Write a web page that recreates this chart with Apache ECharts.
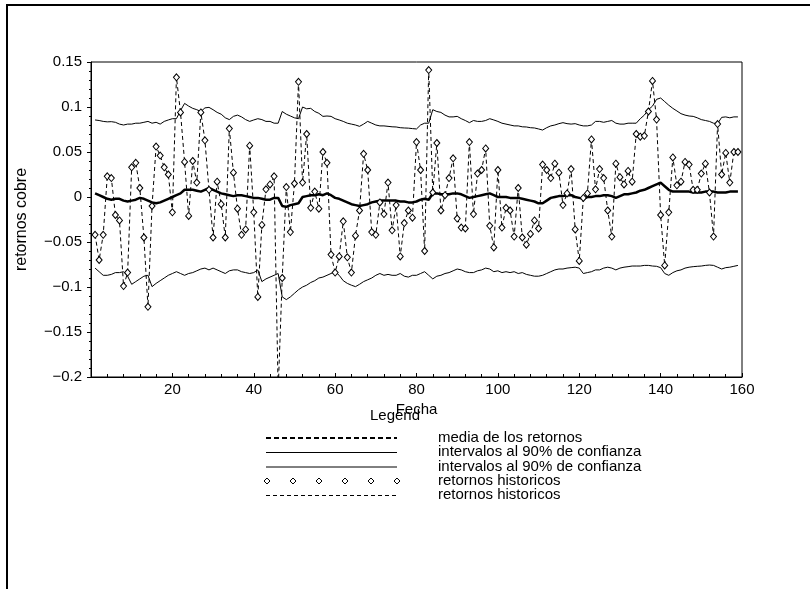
<!DOCTYPE html>
<html>
<head>
<meta charset="utf-8">
<script src="https://cdn.jsdelivr.net/npm/echarts@6/dist/echarts.min.js"></script>
<style>
  html, body { margin: 0; padding: 0; background: #fff; }
  #main { width: 810px; height: 589px; }
</style>
</head>
<body>
<div id="main"></div>
<script>
// retornos historicos, dias 1..159
var retornos = [
  -0.042, -0.070, -0.042, 0.023, 0.021, -0.020, -0.026, -0.099, -0.084, 0.033,
  0.038, 0.010, -0.045, -0.122, -0.010, 0.056, 0.046, 0.033, 0.025, -0.017,
  0.133, 0.094, 0.039, -0.021, 0.040, 0.016, 0.094, 0.063, 0.008, -0.045,
  0.017, -0.008, -0.045, 0.076, 0.027, -0.013, -0.042, -0.036, 0.057, -0.017,
  -0.111, -0.031, 0.0085, 0.014, 0.023, -0.215, -0.090, 0.011, -0.039, 0.015,
  0.128, 0.016, 0.070, -0.012, 0.006, -0.013, 0.050, 0.038, -0.064, -0.084,
  -0.066, -0.027, -0.067, -0.084, -0.043, -0.015, 0.048, 0.030, -0.039, -0.042,
  -0.006, -0.019, 0.016, -0.037, -0.009, -0.066, -0.029, -0.015, -0.023, 0.061,
  0.030, -0.060, 0.141, 0.005, 0.060, -0.015, 0.002, 0.021, 0.043, -0.024,
  -0.034, -0.035, 0.061, -0.019, 0.026, 0.030, 0.054, -0.032, -0.056, 0.030,
  -0.034, -0.012, -0.015, -0.044, 0.010, -0.045, -0.053, -0.041, -0.026, -0.035,
  0.036, 0.030, 0.021, 0.037, 0.027, -0.009, 0.004, 0.031, -0.036, -0.071,
  -0.001, 0.004, 0.064, 0.0085, 0.031, 0.021, -0.015, -0.044, 0.037, 0.022,
  0.014, 0.029, 0.017, 0.070, 0.067, 0.068, 0.095, 0.129, 0.086, -0.020,
  -0.076, -0.017, 0.044, 0.013, 0.017, 0.039, 0.036, 0.008, 0.008, 0.026,
  0.037, 0.005, -0.044, 0.081, 0.025, 0.049, 0.016, 0.050, 0.050
];
var media = [
  0.004, 0.002, 0.000, -0.002, -0.003, -0.002, -0.002, -0.004, -0.005, -0.004,
  -0.003, -0.001, -0.002, -0.004, -0.006, -0.007, -0.006, -0.004, -0.002, 0.000,
  0.002, 0.004, 0.008, 0.008, 0.008, 0.007, 0.006, 0.008, 0.010, 0.008,
  0.006, 0.004, 0.003, 0.002, 0.001, 0.002, 0.002, 0.001, 0.000, -0.001,
  -0.001, -0.002, -0.003, -0.003, -0.001, -0.001, -0.010, -0.011, -0.009, -0.008,
  -0.007, 0.000, 0.001, 0.002, 0.002, 0.003, 0.002, 0.004, 0.002, -0.001,
  -0.002, -0.004, -0.006, -0.008, -0.009, -0.010, -0.009, -0.008, -0.006, -0.005,
  -0.004, -0.004, -0.004, -0.004, -0.004, -0.005, -0.005, -0.006, -0.006, -0.005,
  -0.003, -0.002, -0.003, 0.004, 0.004, 0.003, 0.003, 0.003, 0.004, 0.004,
  0.003, 0.001, -0.001, 0.000, 0.001, 0.002, 0.003, 0.004, 0.002, 0.000,
  0.000, 0.000, -0.001, -0.001, -0.001, -0.002, -0.003, -0.004, -0.005, -0.007,
  -0.007, -0.004, -0.001, 0.000, 0.001, 0.001, 0.002, 0.002, 0.000, -0.001,
  -0.002, 0.000, 0.000, 0.001, 0.001, 0.002, 0.002, 0.001, -0.001, 0.001,
  0.003, 0.003, 0.004, 0.005, 0.007, 0.008, 0.010, 0.012, 0.014, 0.016,
  0.012, 0.008, 0.006, 0.006, 0.006, 0.006, 0.006, 0.005, 0.005, 0.005,
  0.006, 0.006, 0.006, 0.005, 0.005, 0.005, 0.006, 0.006, 0.006
];
var intervaloSup = [
  0.0856, 0.085, 0.084, 0.0835, 0.0837, 0.083, 0.081, 0.080, 0.081, 0.081,
  0.082, 0.082, 0.083, 0.084, 0.082, 0.083, 0.081, 0.084, 0.0856, 0.087,
  0.087, 0.096, 0.104, 0.101, 0.0985, 0.097, 0.095, 0.099, 0.0996, 0.097,
  0.094, 0.092, 0.088, 0.086, 0.0896, 0.091, 0.089, 0.086, 0.084, 0.0856,
  0.087, 0.086, 0.084, 0.084, 0.082, 0.082, 0.095, 0.092, 0.090, 0.088,
  0.087, 0.100, 0.098, 0.0985, 0.095, 0.093, 0.0896, 0.090, 0.0896, 0.087,
  0.0856, 0.084, 0.082, 0.081, 0.080, 0.0785, 0.081, 0.084, 0.082, 0.080,
  0.079, 0.079, 0.0785, 0.078, 0.0778, 0.077, 0.0767, 0.0765, 0.076, 0.0756,
  0.080, 0.082, 0.082, 0.097, 0.095, 0.094, 0.091, 0.089, 0.089, 0.0896,
  0.087, 0.085, 0.0826, 0.085, 0.084, 0.084, 0.085, 0.087, 0.0856, 0.084,
  0.082, 0.081, 0.080, 0.079, 0.079, 0.078, 0.0778, 0.077, 0.0767, 0.0756,
  0.0744, 0.077, 0.079, 0.080, 0.0815, 0.0826, 0.0815, 0.081, 0.0815, 0.080,
  0.079, 0.079, 0.080, 0.084, 0.084, 0.083, 0.084, 0.085, 0.082, 0.081,
  0.081, 0.082, 0.082, 0.082, 0.087, 0.091, 0.097, 0.101, 0.1085, 0.110,
  0.106, 0.102, 0.0985, 0.0956, 0.0926, 0.091, 0.090, 0.0896, 0.088, 0.086,
  0.085, 0.084, 0.082, 0.0815, 0.0885, 0.089, 0.088, 0.089, 0.089
];
var intervaloInf = [
  -0.079, -0.083, -0.087, -0.087, -0.086, -0.084, -0.084, -0.083, -0.088, -0.097,
  -0.094, -0.091, -0.088, -0.087, -0.0996, -0.096, -0.093, -0.090, -0.087, -0.085,
  -0.083, -0.085, -0.087, -0.085, -0.084, -0.082, -0.080, -0.079, -0.081, -0.079,
  -0.081, -0.083, -0.085, -0.082, -0.081, -0.081, -0.083, -0.084, -0.085, -0.084,
  -0.081, -0.094, -0.091, -0.089, -0.087, -0.085, -0.111, -0.114, -0.111, -0.107,
  -0.103, -0.100, -0.098, -0.095, -0.093, -0.090, -0.089, -0.087, -0.085, -0.083,
  -0.087, -0.093, -0.096, -0.098, -0.0996, -0.097, -0.094, -0.092, -0.090, -0.087,
  -0.085, -0.087, -0.086, -0.087, -0.087, -0.085, -0.088, -0.089, -0.087, -0.087,
  -0.085, -0.083, -0.087, -0.091, -0.088, -0.087, -0.085, -0.084, -0.082, -0.080,
  -0.081, -0.083, -0.084, -0.084, -0.082, -0.081, -0.079, -0.080, -0.083, -0.082,
  -0.084, -0.083, -0.084, -0.083, -0.085, -0.084, -0.086, -0.087, -0.088, -0.088,
  -0.087, -0.085, -0.083, -0.081, -0.080, -0.080, -0.079, -0.0785, -0.078, -0.079,
  -0.085, -0.084, -0.083, -0.081, -0.081, -0.079, -0.078, -0.079, -0.081, -0.079,
  -0.078, -0.0774, -0.0767, -0.0767, -0.0767, -0.076, -0.076, -0.0767, -0.077, -0.0785,
  -0.085, -0.087, -0.084, -0.082, -0.081, -0.079, -0.078, -0.0774, -0.077, -0.0767,
  -0.076, -0.0756, -0.076, -0.078, -0.080, -0.0785, -0.078, -0.077, -0.076
];
var yTicks = [-0.2, -0.15, -0.1, -0.05, 0, 0.05, 0.1, 0.15];
var xTicks = [0, 20, 40, 60, 80, 100, 120, 140, 160];
var legendNames = [
  'media de los retornos',
  'intervalos al 90% de confianza',
  'intervalos al 90% de confianza',
  'retornos historicos',
  'retornos historicos'
];

function pares(arr) {
  return arr.map(function (v, i) { return [i + 1, v]; });
}

var FONT = '"Liberation Sans", Arial, sans-serif';
var chart = echarts.init(document.getElementById('main'));

// leyenda dibujada a mano (estilo Scilab)
var legendGraphics = [];
var rowY = [438, 452.5, 467, 481, 495.5];
legendNames.forEach(function (name, k) {
  var y = rowY[k];
  if (k === 3) {
    for (var d = 0; d < 6; d++) {
      legendGraphics.push({
        type: 'polygon',
        shape: { points: [[267 + d * 26, y - 3], [270 + d * 26, y], [267 + d * 26, y + 3], [264 + d * 26, y]] },
        style: { fill: '#fff', stroke: '#000', lineWidth: 1 }
      });
    }
  } else {
    legendGraphics.push({
      type: 'line',
      shape: { x1: 266, y1: y, x2: 397, y2: y },
      style: {
        stroke: '#000',
        lineWidth: k === 0 ? 2 : 1,
        lineDash: k === 0 ? [5, 3] : (k === 4 ? [4, 3] : null)
      }
    });
  }
  legendGraphics.push({
    type: 'text',
    left: 438, top: y - 8,
    style: { text: name, font: '15px ' + FONT, fill: '#000' }
  });
});
legendGraphics.push({
  type: 'text',
  left: 370, top: 408,
  style: { text: 'Legend', font: '15px ' + FONT, fill: '#000' }
});
// marco exterior
legendGraphics.push({
  type: 'rect',
  shape: { x: 7, y: 5, width: 830, height: 620 },
  style: { fill: 'none', stroke: '#000', lineWidth: 2 }
});

var option = {
  animation: false,
  backgroundColor: '#fff',
  textStyle: { fontFamily: FONT },
  grid: {
    left: 91, right: 68, top: 62, bottom: 212,
    show: true, borderColor: '#000', borderWidth: 1, backgroundColor: 'transparent'
  },
  xAxis: {
    type: 'value',
    min: xTicks[0], max: xTicks[xTicks.length - 1], interval: 20,
    name: 'Fecha', nameLocation: 'middle', nameGap: 22,
    nameTextStyle: { color: '#000', fontSize: 15, fontFamily: FONT },
    axisLine: { onZero: false, lineStyle: { color: '#000', width: 1 } },
    axisTick: { inside: true, length: 4, lineStyle: { color: '#000' } },
    minorTick: { show: true, splitNumber: 5, length: 3, lineStyle: { color: '#000' } },
    splitLine: { show: false },
    axisLabel: {
      color: '#000', fontSize: 15, margin: 5, fontFamily: FONT,
      formatter: function (v) { return v === 0 ? '' : String(v); }
    }
  },
  yAxis: {
    type: 'value',
    min: yTicks[0], max: yTicks[yTicks.length - 1], interval: 0.05,
    name: 'retornos cobre', nameLocation: 'middle', nameGap: 61, nameRotate: 90,
    nameTextStyle: { color: '#000', fontSize: 16, fontFamily: FONT },
    axisLine: { show: true, onZero: false, lineStyle: { color: '#000', width: 1 } },
    axisTick: { show: true, length: 4, lineStyle: { color: '#000' } },
    minorTick: { show: true, splitNumber: 5, length: 2, lineStyle: { color: '#000' } },
    splitLine: { show: false },
    axisLabel: {
      color: '#000', fontSize: 15, margin: 9, fontFamily: FONT,
      formatter: function (v) {
        var r = parseFloat(v.toFixed(2));
        return r < 0 ? '\u2212' + String(-r) : String(r);
      }
    }
  },
  graphic: legendGraphics,
  series: [
    {
      name: 'intervalos al 90% de confianza', type: 'line', data: pares(intervaloSup),
      showSymbol: false, lineStyle: { color: '#000', width: 1 }, z: 2
    },
    {
      name: 'intervalos al 90% de confianza', type: 'line', data: pares(intervaloInf),
      showSymbol: false, lineStyle: { color: '#000', width: 1 }, z: 2
    },
    {
      name: 'media de los retornos', type: 'line', data: pares(media),
      showSymbol: false, lineStyle: { color: '#000', width: 2.5 }, z: 3
    },
    {
      name: 'retornos historicos', type: 'line', data: pares(retornos),
      symbol: 'diamond', symbolSize: [6, 7], showAllSymbol: true,
      itemStyle: { color: '#fff', borderColor: '#000', borderWidth: 1 },
      lineStyle: { color: '#000', width: 1, type: [4, 3] }, z: 4
    }
  ]
};
chart.setOption(option);
</script>
</body>
</html>
